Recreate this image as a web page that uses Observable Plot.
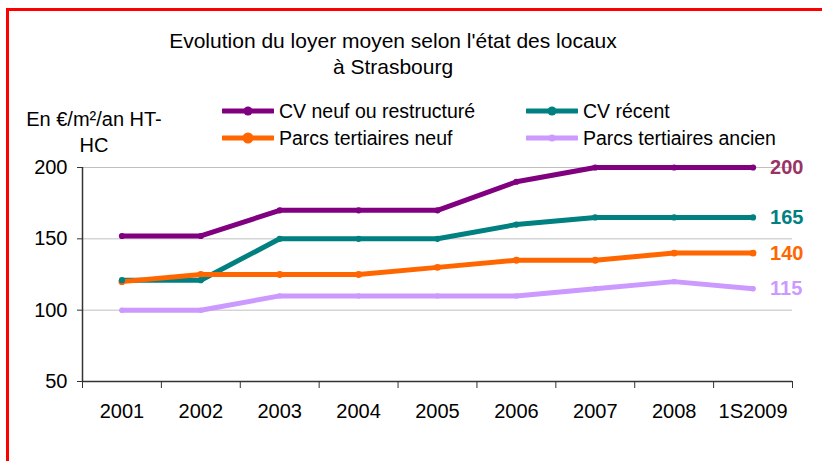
<!DOCTYPE html>
<html>
<head>
<meta charset="utf-8">
<script src="https://cdn.jsdelivr.net/npm/d3@7"></script>
<script src="https://cdn.jsdelivr.net/npm/@observablehq/plot@0.6"></script>
<style>
  html, body { margin: 0; padding: 0; background: #fff; }
  body { width: 822px; height: 461px; overflow: hidden; position: relative; font-family: Arial, "Liberation Sans", sans-serif; color: #000; }
  #frame { position: absolute; left: 6px; top: 8px; width: 830px; height: 470px; border-left: 3px solid #ff0000; border-top: 3px solid #ff0000; }
  #title { position: absolute; left: 0; width: 786px; top: 28px; text-align: center; font-size: 21px; line-height: 26px; }
  #ylabel { position: absolute; left: 14px; width: 160px; top: 106px; text-align: center; font-size: 20px; line-height: 26px; }
  .leg { position: absolute; font-size: 19.5px; display: flex; align-items: center; height: 24px; white-space: nowrap; }
  .leg svg { margin-right: 5px; }
  #chart { position: absolute; left: 0; top: 150px; }
</style>
</head>
<body>
<div id="frame"></div>
<div id="title">Evolution du loyer moyen selon l'état des locaux<br>à Strasbourg</div>
<div id="ylabel">En €/m²/an HT-<br>HC</div>
<div id="legend"></div>
<div id="chart"></div>
<script>
const categories = ["2001", "2002", "2003", "2004", "2005", "2006", "2007", "2008", "1S2009"];
const seriesNames = ["CV neuf ou restructuré", "CV récent", "Parcs tertiaires neuf", "Parcs tertiaires ancien"];
const cvNeuf = [152, 152, 170, 170, 170, 190, 200, 200, 200];
const cvRecent = [121, 121, 150, 150, 150, 160, 165, 165, 165];
const parcsNeuf = [120, 125, 125, 125, 130, 135, 135, 140, 140];
const parcsAncien = [100, 100, 110, 110, 110, 110, 115, 120, 115];
const yTicks = [50, 100, 150, 200];
const colors = ["#800080", "#008080", "#ff6600", "#cc99ff"];
const labelColors = ["#993366", "#008080", "#ff6600", "#cc99ff"];
const dotR = [4.5, 4.5, 5.5, 3.5];

const allSeries = [cvNeuf, cvRecent, parcsNeuf, parcsAncien];
const data = [];
allSeries.forEach((vals, s) => vals.forEach((v, i) => data.push({series: seriesNames[s], idx: i + 1, cat: categories[i], value: v, s})));
const lastPoints = data.filter(d => d.idx === categories.length);

// Legend
const legPos = [[222, 99], [526, 99], [222, 126], [526, 126]];
const legend = document.getElementById("legend");
seriesNames.forEach((name, s) => {
  const div = document.createElement("div");
  div.className = "leg";
  div.style.left = legPos[s][0] + "px";
  div.style.top = legPos[s][1] + "px";
  div.innerHTML = `<svg width="52" height="12"><line x1="1" x2="51" y1="6" y2="6" stroke="${colors[s]}" stroke-width="5" stroke-linecap="round"/><circle cx="26" cy="6" r="${dotR[s]}" fill="${colors[s]}"/></svg><span>${name}</span>`;
  legend.appendChild(div);
});

const idx = categories.map((c, i) => i + 1);
const bounds = d3.range(0, categories.length + 1).map(i => i + 0.5);

const chart = Plot.plot({
  width: 822,
  height: 311,
  marginLeft: 82,
  marginRight: 30,
  marginTop: 17,
  marginBottom: 80,
  style: {fontFamily: "Arial, 'Liberation Sans', sans-serif", fontSize: "20px", color: "#000", background: "transparent", overflow: "visible"},
  x: {type: "linear", domain: [0.5, categories.length + 0.5]},
  y: {domain: [50, 200]},
  marks: [
    Plot.ruleY([100, 150, 200], {stroke: "#c0c0c0", strokeWidth: 1}),
    Plot.axisY({ticks: yTicks, tickSize: 5, tickPadding: 10, stroke: "#333", label: null, tickFormat: d => d, fontSize: 20}),
    Plot.axisX({ticks: bounds, tickSize: 7, tickFormat: () => "", stroke: "#333", label: null}),
    Plot.axisX({ticks: idx, tickSize: 0, tickPadding: 22, tickFormat: i => categories[i - 1], label: null, fontSize: 20}),
    Plot.ruleY([50], {stroke: "#333", strokeWidth: 1.5}),
    Plot.ruleX([0.5], {stroke: "#333", strokeWidth: 1.5}),
    Plot.line(data, {x: "idx", y: "value", z: "series", stroke: d => colors[d.s], strokeWidth: 5}),
    Plot.dot(data, {x: "idx", y: "value", fill: d => colors[d.s], r: d => dotR[d.s], stroke: "none"}),
    Plot.text(lastPoints, {x: "idx", y: "value", text: d => String(d.value), fill: d => labelColors[d.s], textAnchor: "start", dx: 17, fontWeight: "bold", fontSize: 20})
  ]
});
chart.querySelectorAll("[aria-label='x-axis tick label'] text, [aria-label='y-axis tick label'] text").forEach(t => t.setAttribute("fill", "#000"));
document.getElementById("chart").appendChild(chart);
</script>
</body>
</html>
